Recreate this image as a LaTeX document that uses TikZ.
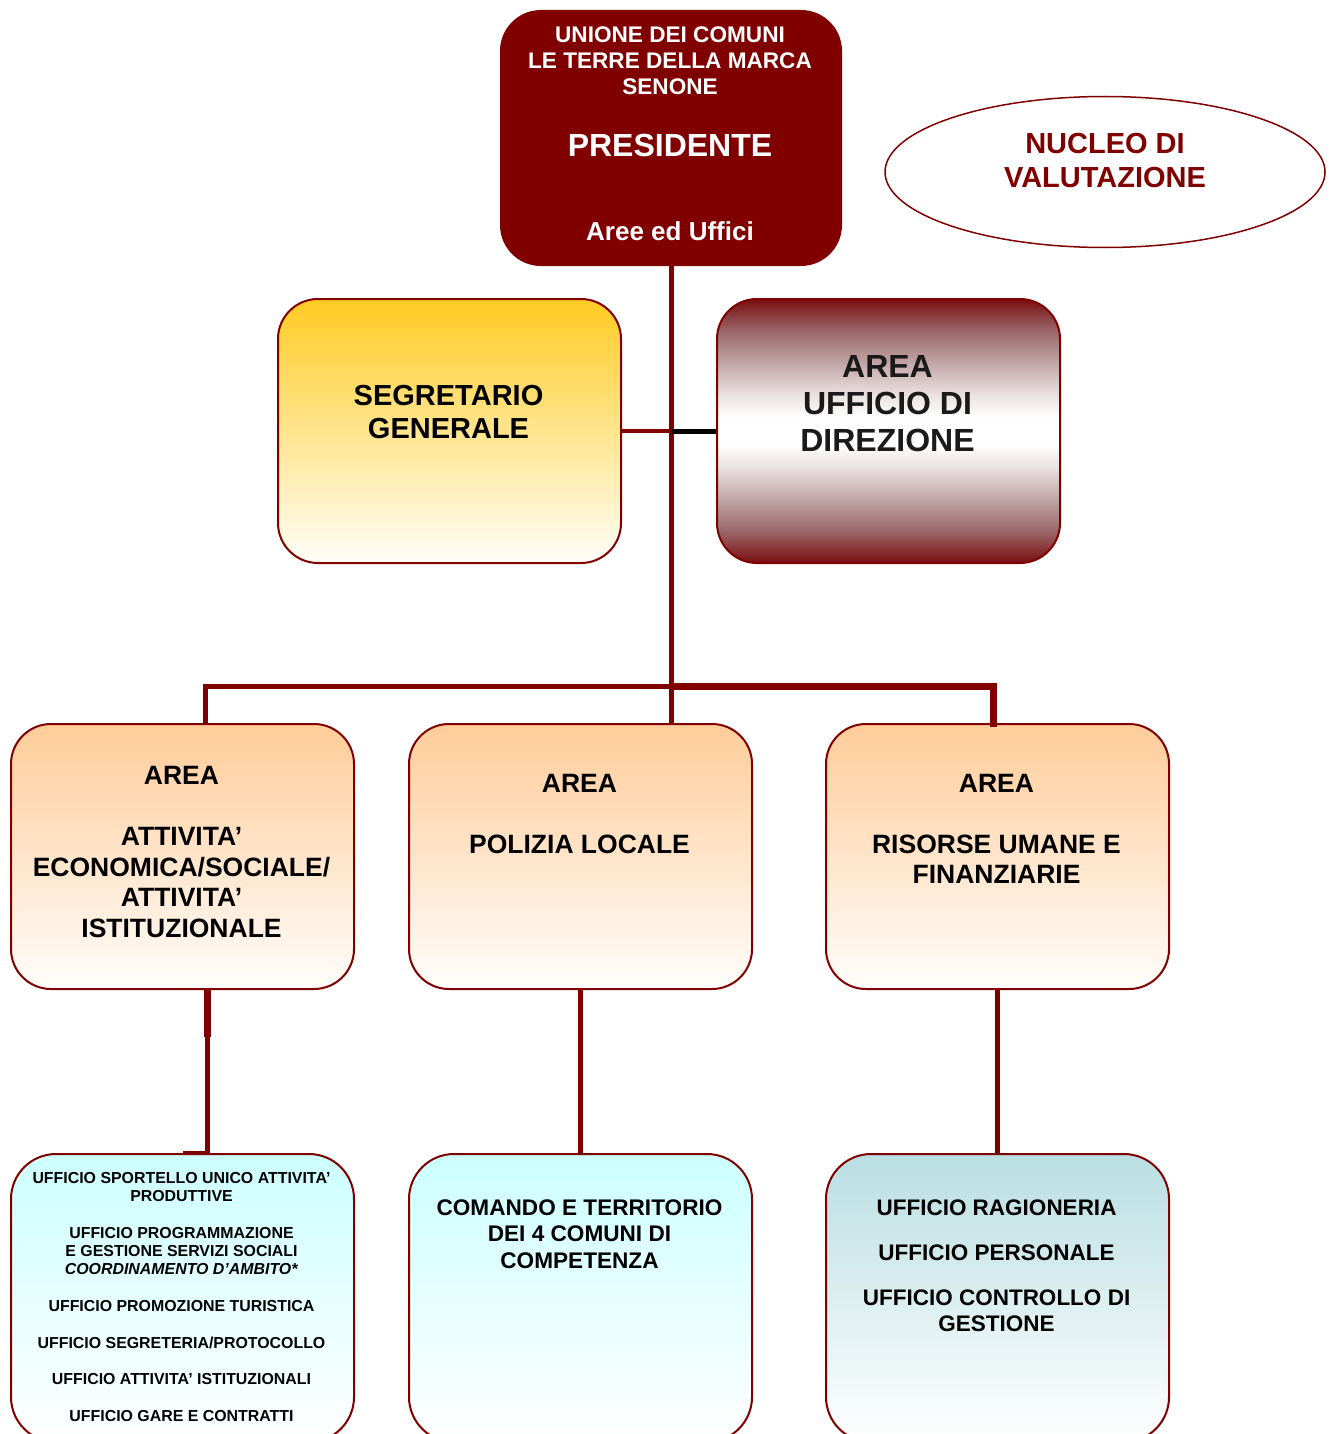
\documentclass[tikz,border=0pt]{standalone}
\usepackage{fontspec}
\setmainfont{Liberation Sans}
\usetikzlibrary{shapes.geometric}
\definecolor{dred}{HTML}{800000}
\definecolor{gold}{HTML}{FFCB22}
\definecolor{goldend}{HTML}{FFFEF9}
\definecolor{peach}{HTML}{FFCC99}
\definecolor{peachend}{HTML}{FFFDFB}
\definecolor{cyanl}{HTML}{CCFFFF}
\definecolor{bluel}{HTML}{B9DEE2}
\definecolor{dirdark}{HTML}{7A0E10}
\definecolor{dirA}{HTML}{9A6668}
\definecolor{dirB}{HTML}{C4AAAB}
\definecolor{dirC}{HTML}{EAE0E0}
\definecolor{dirtext}{HTML}{1A1A1A}
\pgfdeclareverticalshading{dirshade}{100bp}{color(0bp)=(dirdark); color(25bp)=(dirdark); color(31bp)=(dirA); color(37.5bp)=(dirB); color(43bp)=(dirC); color(47.5bp)=(white); color(52.5bp)=(white); color(57bp)=(dirC); color(62.5bp)=(dirB); color(69bp)=(dirA); color(75bp)=(dirdark); color(100bp)=(dirdark)}
\begin{document}
\begin{tikzpicture}[x=1pt,y=-1pt,
  box/.style={draw=dred, line width=2pt, rounded corners=40pt, minimum width=343pt, minimum height=265pt, inner sep=0pt, anchor=north west},
  txt/.style={align=center, inner sep=0pt, anchor=north},
  conn/.style={draw=dred, line width=5pt},
]
\useasboundingbox (0,0) rectangle (1331,1434);
\fill[white] (0,0) rectangle (1331,1434);

% top
\node[box, fill=dred, minimum width=340pt, minimum height=254pt] (pres) at (500,10) {};
\node[txt, text=white, font=\fontsize{22.6}{26}\selectfont\bfseries] (pt1) at (670,27) {UNIONE DEI COMUNI\\LE TERRE DELLA MARCA\\SENONE};
\node[txt, text=white, font=\fontsize{32}{37}\selectfont\bfseries] (pt2) at (670,134) {PRESIDENTE};
\node[txt, text=white, font=\fontsize{26}{30}\selectfont\bfseries] (pt3) at (670,221) {Aree ed Uffici};

\node[ellipse, draw=dred, line width=1.5pt, fill=white, minimum width=440pt, minimum height=151pt] (nuc) at (1105,172) {};
\node[txt, text=dred, font=\fontsize{29}{34}\selectfont\bfseries] (nuct) at (1105,132.6) {NUCLEO DI\\VALUTAZIONE};

% second row
\node[box, top color=gold, bottom color=goldend, minimum height=264pt] (seg) at (277,298) {};
\node[txt, font=\fontsize{29}{33.4}\selectfont\bfseries] (segt) at (448.5,384.6) {SEGRETARIO\\GENERALE};

\node[box, shade, shading=dirshade, minimum height=264pt] (dir) at (716,298) {};
\node[txt, text=dirtext, font=\fontsize{32}{36.8}\selectfont\bfseries] (dirt) at (887.5,355.5) {AREA\\UFFICIO DI\\DIREZIONE};

% third row
\node[box, top color=peach, bottom color=peachend] (l2) at (10,723) {};
\node[box, top color=peach, bottom color=peachend] (m2) at (408,723) {};
\node[box, top color=peach, bottom color=peachend] (r2) at (825,723) {};
\node[txt, font=\fontsize{26.5}{30.5}\selectfont\bfseries] (l2t) at (181.5,766.5) {AREA\\[30.5pt]ATTIVITA’\\ECONOMICA/SOCIALE/\\ATTIVITA’\\ISTITUZIONALE};
\node[txt, font=\fontsize{26.5}{30.5}\selectfont\bfseries] (m2t) at (579.5,774) {AREA\\[30.5pt]POLIZIA LOCALE};
\node[txt, font=\fontsize{26.5}{30.5}\selectfont\bfseries] (r2t) at (996.5,774) {AREA\\[30.5pt]RISORSE UMANE E\\FINANZIARIE};

% bottom row
\node[box, top color=cyanl, bottom color=white, minimum height=288pt, rounded corners=45pt] (l3) at (10,1153) {};
\node[box, top color=cyanl, bottom color=white, minimum height=288pt, rounded corners=45pt] (m3) at (408,1153) {};
\node[box, top color=bluel, bottom color=white, minimum height=288pt, rounded corners=45pt] (r3) at (825,1153) {};
\node[txt, font=\fontsize{15.9}{18.3}\selectfont\bfseries] (l3t) at (181.5,1172) {UFFICIO SPORTELLO UNICO ATTIVITA’\\PRODUTTIVE\\[18.3pt]UFFICIO PROGRAMMAZIONE\\E GESTIONE SERVIZI SOCIALI\\\textit{COORDINAMENTO D’AMBITO*}\\[18.3pt]UFFICIO PROMOZIONE TURISTICA\\[18.3pt]UFFICIO SEGRETERIA/PROTOCOLLO\\[18.3pt]UFFICIO ATTIVITA’ ISTITUZIONALI\\[18.3pt]UFFICIO GARE E CONTRATTI};
\node[txt, font=\fontsize{22.6}{26.5}\selectfont\bfseries] (m3t) at (579.5,1199.5) {COMANDO E TERRITORIO\\DEI 4 COMUNI DI\\COMPETENZA};
\node[txt, font=\fontsize{22.5}{26}\selectfont\bfseries] (r3t) at (996.5,1199.5) {UFFICIO RAGIONERIA\\[19pt]UFFICIO PERSONALE\\[19pt]UFFICIO CONTROLLO DI\\GESTIONE};

% connectors
\coordinate (busL) at (205,686);
\coordinate (busM) at (670,686);
\coordinate (busR) at (993,686);
\coordinate (lx) at (207,1000);
\draw[conn] (pres.south) -- (pres.south |- m2.north);
\draw[dred, line width=4pt] (seg.east) -- (seg.east -| pres.south);
\draw[black, line width=5pt] (seg.east -| pres.south) -- (dir.west);
\draw[conn] (l2.north -| busL) -- (busL) -- (busM);
\draw[dred, line width=7pt] (busM) -- (busR) -- ([yshift=-4pt]r2.north -| busR);
\draw[conn] (l2.south -| lx) -- (l3.north -| lx);
\draw[dred, line width=7pt] (l2.south -| lx) -- ++(0,47);
\draw[dred, line width=3pt] ([yshift=1pt]l3.north -| lx) -- ++(-24,0);
\draw[conn] (m2.south) -- (m3.north);
\draw[conn] (r2.south) -- (r3.north);
\end{tikzpicture}
\end{document}
